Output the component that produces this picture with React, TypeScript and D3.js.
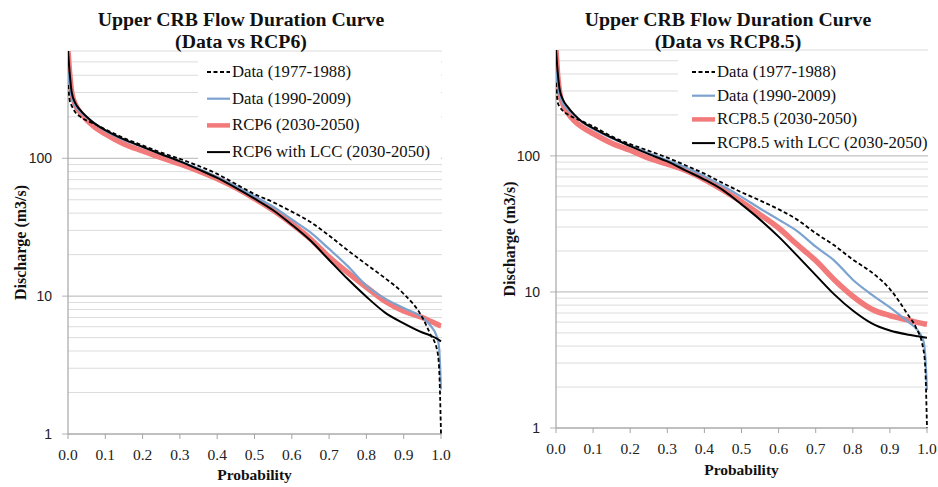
import React from "react";
import * as d3 from "d3";

// exceedance probabilities shared by every series
const probs = [0, 0.005, 0.01, 0.02, 0.03, 0.05, 0.07, 0.1, 0.15, 0.2, 0.25, 0.3, 0.35, 0.4, 0.45, 0.5,
  0.55, 0.6, 0.65, 0.7, 0.75, 0.8, 0.85, 0.9, 0.95, 0.97, 0.99, 0.995, 1.0];

// discharge (m3/s)
const obs7788 = [340, 260, 240, 215, 203, 188, 178, 162, 140, 124, 110, 99, 88, 77, 65, 55,
  48, 41, 34.5, 27.5, 21.5, 17, 13.5, 10.4, 7.0, 5.4, 4.0, 3.0, 1.0];
const obs9009 = [420, 320, 280, 240, 222, 198, 180, 158, 136, 121, 107, 95, 84, 73, 63, 53,
  44.5, 36, 29, 22, 16.5, 11.9, 9.6, 8.2, 7.0, 6.2, 5.0, 4.2, 2.1];
const rcp6 = [600, 400, 300, 245, 220, 190, 170, 150, 127, 113, 101, 91, 81, 71, 61, 51,
  42, 33.5, 26, 19.2, 14.8, 11.6, 9.2, 7.8, 7.0, 6.6, 6.25, 6.15, 6.1];
const rcp6Lcc = [600, 400, 300, 250, 228, 200, 180, 160, 137, 121, 107, 95, 83, 72, 61, 51,
  42, 33, 25.3, 18.3, 13.3, 9.9, 7.6, 6.35, 5.45, 5.2, 4.9, 4.8, 4.7];

// discharge
const obs7788b = [344, 245, 230, 212, 203, 190, 180, 165, 139, 122, 109, 97, 85, 74, 63, 54,
  47, 40.5, 34, 27, 22, 17.3, 14, 10.5, 6.7, 5.5, 3.8, 2.9, 1.0];
const obs9009b = [420, 320, 280, 240, 222, 198, 178, 158, 135, 119, 105, 93, 82, 71, 60, 50,
  41, 34, 28, 21.5, 17, 12.3, 9.6, 7.7, 6.0, 5.4, 4.4, 3.5, 1.9];
const rcp85 = [600, 380, 290, 235, 210, 180, 163, 146, 124, 110, 96, 87, 78, 67, 56, 46,
  37, 29.5, 22.3, 17, 12.3, 9.3, 7.5, 6.7, 6.2, 6.0, 5.85, 5.82, 5.8];
const rcp85Lcc = [600, 400, 306, 255, 232, 200, 178, 160, 136, 118, 103, 91, 78, 67, 56, 44,
  34, 25.5, 18.5, 13.3, 9.6, 7.3, 5.9, 5.2, 4.85, 4.75, 4.65, 4.62, 4.6];

const xTicks = [0, 0.1, 0.2, 0.3, 0.4, 0.5, 0.6, 0.7, 0.8, 0.9, 1.0];
const yMajor = [1, 10, 100];
const yMinor = [2, 3, 4, 5, 6, 7, 8, 9, 20, 30, 40, 50, 60, 70, 80, 90, 200, 300, 400, 500, 600];

const SERIF = "'Liberation Serif', 'Times New Roman', serif";
const SANS = "'Liberation Sans', Arial, sans-serif";

type Series = { name: string; values: number[]; color: string; width: number; dash?: string; z: number };

type Panel = {
  id: string;
  title: [string, string];
  titleX: number;
  x0: number; x1: number; yTop: number; yBot: number;
  legend: { x: number; y: number; w: number; h: number; sx: number; step: number; first: number };
  yLabelX: number;
  xLabelY: number;
  xTickY: number;
  series: Series[];
};

const mkSeries = (a: number[], b: number[], c: number[], d: number[], tag: string): Series[] => [
  { name: "Data (1977-1988)", values: a, color: "#000", width: 1.8, dash: "4,2.5", z: 2 },
  { name: "Data (1990-2009)", values: b, color: "#7ca3cf", width: 2.2, z: 1 },
  { name: `${tag} (2030-2050)`, values: c, color: "#f27a7a", width: 5.5, z: 0 },
  { name: `${tag} with LCC (2030-2050)`, values: d, color: "#000", width: 2, z: 3 },
];

const panels: Panel[] = [
  {
    id: "a", title: ["Upper CRB Flow Duration Curve", "(Data vs RCP6)"], titleX: 241,
    x0: 68, x1: 441, yTop: 51, yBot: 434,
    legend: { x: 198, y: 57, w: 243, h: 106, sx: 207, step: 26.7, first: 72 },
    yLabelX: 21, xLabelY: 480, xTickY: 460,
    series: mkSeries(obs7788, obs9009, rcp6, rcp6Lcc, "RCP6"),
  },
  {
    id: "b", title: ["Upper CRB Flow Duration Curve", "(Data vs RCP8.5)"], titleX: 728,
    x0: 556, x1: 927, yTop: 50, yBot: 428,
    legend: { x: 678, y: 57, w: 250, h: 95, sx: 692, step: 23.7, first: 72 },
    yLabelX: 510, xLabelY: 475, xTickY: 454,
    series: mkSeries(obs7788b, obs9009b, rcp85, rcp85Lcc, "RCP8.5"),
  },
];

const Chart = ({ p }: { p: Panel }) => {
  const x = d3.scaleLinear().domain([0, 1]).range([p.x0, p.x1]);
  const y = d3.scaleLog().domain([1, 600]).range([p.yBot, p.yTop]).clamp(true);
  const line = d3.line<number>()
    .x((_, i) => x(probs[i]))
    .y((v) => y(v))
    .curve(d3.curveMonotoneX);
  const lg = p.legend;
  const sorted = [...p.series].sort((a, b) => a.z - b.z);
  return (
    <g>
      <defs>
        <clipPath id={`clip-${p.id}`}>
          <rect x={p.x0} y={p.yTop} width={p.x1 - p.x0 + 2} height={p.yBot - p.yTop} />
        </clipPath>
      </defs>
      {yMinor.map((v) => (
        <line key={"mn" + v} x1={p.x0} x2={p.x1 + 1} y1={y(v)} y2={y(v)} stroke="#dcdcdc" strokeWidth={1} />
      ))}
      {yMajor.map((v) => (
        <line key={"mj" + v} x1={p.x0 - 6} x2={p.x1 + 1} y1={y(v)} y2={y(v)} stroke="#b4b4b4" strokeWidth={1} />
      ))}
      <rect x={lg.x} y={lg.y} width={lg.w} height={lg.h} fill="#fff" />
      <line x1={p.x0} x2={p.x0} y1={p.yTop} y2={p.yBot} stroke="#a6a6a6" strokeWidth={1.2} />
      <line x1={p.x0} x2={p.x1} y1={p.yBot} y2={p.yBot} stroke="#a6a6a6" strokeWidth={1.2} />
      {xTicks.map((t) => (
        <g key={"xt" + t}>
          <line x1={x(t)} x2={x(t)} y1={p.yBot} y2={p.yBot + 5} stroke="#a6a6a6" />
          <text x={x(t)} y={p.xTickY} textAnchor="middle" fontFamily={SERIF} fontSize={15.5} fill="#222">
            {d3.format(".1f")(t)}
          </text>
        </g>
      ))}
      {yMajor.map((v) => (
        <text key={"yt" + v} x={p.x0 - 16} y={y(v) + 5} textAnchor="end" fontFamily={SANS} fontSize={14} fill="#222">
          {v}
        </text>
      ))}
      <g clipPath={`url(#clip-${p.id})`}>
        {sorted.map((s) => (
          <path key={s.name} d={line(s.values) || ""} fill="none" stroke={s.color}
            strokeWidth={s.width} strokeDasharray={s.dash} strokeLinejoin="round" />
        ))}
      </g>
      {p.series.map((s, i) => {
        const yy = lg.first + i * lg.step;
        return (
          <g key={"lg" + i}>
            <line x1={lg.sx} x2={lg.sx + 23} y1={yy} y2={yy} stroke={s.color}
              strokeWidth={Math.min(s.width, 4.5)} strokeDasharray={s.dash} />
            <text x={lg.sx + 25} y={yy + 5} fontFamily={SERIF} fontSize={16.7} fill="#111">{s.name}</text>
          </g>
        );
      })}
      <text x={p.titleX} y={26} textAnchor="middle" fontFamily={SERIF} fontWeight="bold" fontSize={19.8} fill="#111">
        {p.title[0]}
      </text>
      <text x={p.titleX} y={48} textAnchor="middle" fontFamily={SERIF} fontWeight="bold" fontSize={19.8} fill="#111">
        {p.title[1]}
      </text>
      <text transform={`translate(${p.yLabelX + 5},${(p.yTop + p.yBot) / 2}) rotate(-90)`} textAnchor="middle"
        fontFamily={SERIF} fontWeight="bold" fontSize={16} fill="#111">
        Discharge (m3/s)
      </text>
      <text x={(p.x0 + p.x1) / 2} y={p.xLabelY} textAnchor="middle" fontFamily={SERIF} fontWeight="bold"
        fontSize={15.5} fill="#111">
        Probability
      </text>
    </g>
  );
};

export default function App() {
  return (
    <svg width={938} height={487} style={{ position: "absolute", left: 0, top: 0, background: "#fff" }}>
      <rect width={938} height={487} fill="#fff" />
      {panels.map((p) => (
        <Chart key={p.id} p={p} />
      ))}
    </svg>
  );
}
